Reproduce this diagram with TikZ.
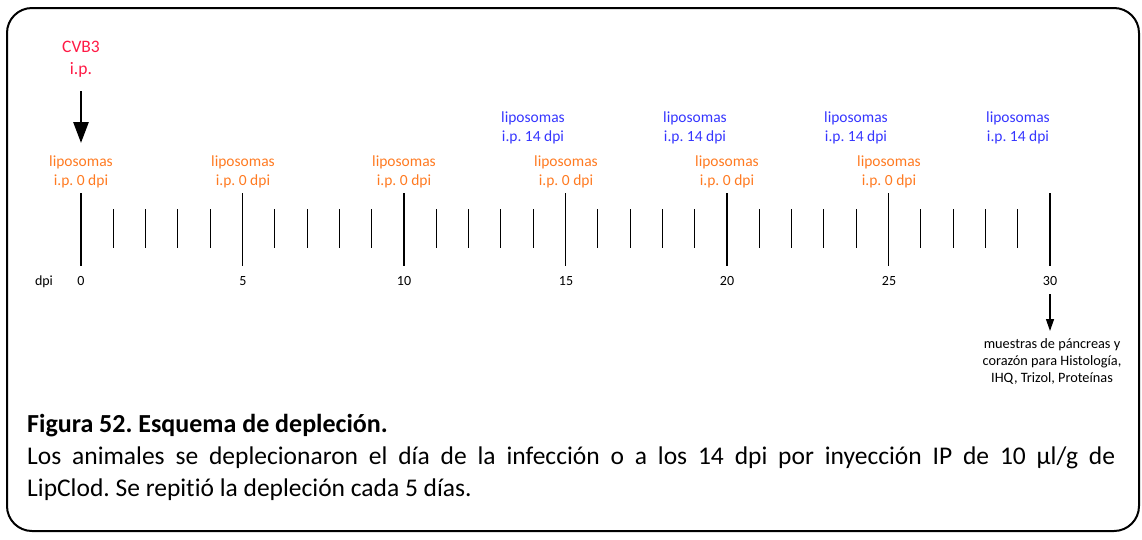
\documentclass[tikz,border=0pt]{standalone}
\usepackage{fontspec}
\setmainfont{Carlito}[Ligatures=NoCommon]
\usepackage{xcolor}
\usetikzlibrary{arrows.meta, positioning}
\frenchspacing

\definecolor{cvbred}{HTML}{FF1A45}
\definecolor{lipoorange}{HTML}{FF7A21}
\definecolor{lipoblue}{HTML}{3535FF}

\begin{document}
\begin{tikzpicture}[x=1pt, y=-1pt,
    boxframe/.style={draw=black, line width=2pt, rounded corners=25pt},
    virus/.style={text=cvbred, align=center, inner sep=0pt, font=\fontsize{17.5}{22}\selectfont},
    lipoday/.style={text=lipoorange, align=center, inner sep=0pt, font=\fontsize{15.5}{18.5}\selectfont},
    lipolate/.style={text=lipoblue, align=center, inner sep=0pt, font=\fontsize{15.5}{19}\selectfont},
    daylabel/.style={anchor=base, inner sep=0pt, font=\fontsize{14}{16}\selectfont},
    samplenote/.style={anchor=north, align=center, inner sep=0pt, font=\fontsize{14.3}{17}\selectfont},
    majortick/.style={line width=1.8pt},
    minortick/.style={line width=1.1pt},
    bigarrow/.style={line width=2.8pt, -{Triangle[width=15pt, length=21pt]}},
    smallarrow/.style={line width=1.3pt, -{Triangle[width=8pt, length=12pt]}}]

    % Frame
    \useasboundingbox (0,0) rectangle (1142,539);
    \draw [boxframe] (7,8) rectangle (1139,531);

    % Infection
    \node [virus] at (81,59) (cvb) {CVB3\\i.p.};

    % Depletion at 0 dpi
    \node [lipoday] at (81,172) (lipo0) {liposomas\\i.p. 0 dpi};
    \node [lipoday] at (243,172) (lipo5) {liposomas\\i.p. 0 dpi};
    \node [lipoday] at (404,172) (lipo10) {liposomas\\i.p. 0 dpi};
    \node [lipoday] at (566,172) (lipo15) {liposomas\\i.p. 0 dpi};
    \node [lipoday] at (727,172) (lipo20) {liposomas\\i.p. 0 dpi};
    \node [lipoday] at (889,172) (lipo25) {liposomas\\i.p. 0 dpi};

    % Depletion at 14 dpi
    \node [lipolate] at (533,128) (late14) {liposomas\\i.p. 14 dpi};
    \node [lipolate] at (695,128) (late19) {liposomas\\i.p. 14 dpi};
    \node [lipolate] at (856,128) (late24) {liposomas\\i.p. 14 dpi};
    \node [lipolate] at (1018,128) (late29) {liposomas\\i.p. 14 dpi};

    % Time axis
    \foreach \d in {0,...,30} {
        \pgfmathtruncatemacro{\r}{mod(\d,5)}
        \ifnum\r=0
            \draw [majortick] ({81+32.3*\d},193) -- ({81+32.3*\d},266);
        \else
            \draw [minortick] ({81+32.3*\d},209) -- ({81+32.3*\d},248);
        \fi
    }
    \node [daylabel] at (44,285) (dpi) {dpi};
    \node [daylabel] at (81,285) (d0) {0};
    \node [daylabel] at (243,285) (d5) {5};
    \node [daylabel] at (404,285) (d10) {10};
    \node [daylabel] at (566,285) (d15) {15};
    \node [daylabel] at (727,285) (d20) {20};
    \node [daylabel] at (889,285) (d25) {25};
    \node [daylabel] at (1050,285) (d30) {30};

    % Sampling
    \node [samplenote] at (1052,338) (sampling) {muestras de páncreas y\\corazón para Histología,\\IHQ, Trizol, Proteínas};

    % Arrows
    \draw [bigarrow] (cvb.south) ++(0,14) -- (81,143);
    \draw [smallarrow] (d30.south) ++(0,9) -- (1050,331);

    % Caption
    \node [anchor=base west, inner sep=0pt, font=\fontsize{26}{32}\selectfont\bfseries] at (27,432) (title) {Figura 52. Esquema de depleción.};
    \node [anchor=base west, inner sep=0pt, text width=1088pt, align=justify, font=\fontsize{25.5}{32}\selectfont] at (27,464) (legend) {Los animales se deplecionaron el día de la infección o a los 14 dpi por inyección IP de 10 µl/g de\linebreak LipClod. Se repitió la depleción cada 5 días.};

\end{tikzpicture}
\end{document}
